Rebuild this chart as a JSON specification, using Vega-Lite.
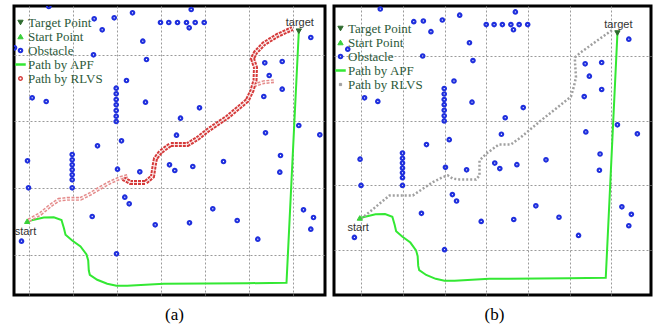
{
  "$schema": "https://vega.github.io/schema/vega-lite/v6.json",
  "background": "white",
  "padding": {"left": 12, "top": 4, "right": 2, "bottom": 2},
  "spacing": 5,
  "config": {
    "view": {"stroke": "black", "strokeWidth": 3},
    "axis": {"grid": true, "gridColor": "#9a9a9a", "gridDash": [2, 2], "gridWidth": 1, "labels": false, "ticks": false, "domain": false}
  },
  "datasets": {
    "pts": [
      {"kind": "Target Point", "x": 286.3, "y": 264.3},
      {"kind": "Start Point", "x": 14.7, "y": 74.3},
      {"kind": "Obstacle", "x": 36.3, "y": 289}, {"kind": "Obstacle", "x": 178.7, "y": 286}, {"kind": "Obstacle", "x": 71.6, "y": 276, "hideA": true}, {"kind": "Obstacle", "x": 81.7, "y": 276.7}, {"kind": "Obstacle", "x": 101.7, "y": 277.7}, {"kind": "Obstacle", "x": 120, "y": 282.7},
      {"kind": "Obstacle", "x": 148, "y": 273}, {"kind": "Obstacle", "x": 156.3, "y": 273}, {"kind": "Obstacle", "x": 165, "y": 273}, {"kind": "Obstacle", "x": 174, "y": 273}, {"kind": "Obstacle", "x": 182.7, "y": 273}, {"kind": "Obstacle", "x": 191.7, "y": 273},
      {"kind": "Obstacle", "x": 176.7, "y": 267.7}, {"kind": "Obstacle", "x": 89.7, "y": 265.7}, {"kind": "Obstacle", "x": 298.3, "y": 258}, {"kind": "Obstacle", "x": 130.3, "y": 254.3}, {"kind": "Obstacle", "x": 2, "y": 247.7},
      {"kind": "Obstacle", "x": 81, "y": 240.7}, {"kind": "Obstacle", "x": 134, "y": 236}, {"kind": "Obstacle", "x": 252.3, "y": 232.7}, {"kind": "Obstacle", "x": 269.7, "y": 234}, {"kind": "Obstacle", "x": 256.7, "y": 220}, {"kind": "Obstacle", "x": 114, "y": 215}, {"kind": "Obstacle", "x": 269.7, "y": 206.3},
      {"kind": "Obstacle", "x": 103.7, "y": 207.3}, {"kind": "Obstacle", "x": 103.7, "y": 201.7}, {"kind": "Obstacle", "x": 103.7, "y": 196}, {"kind": "Obstacle", "x": 103.7, "y": 190.7}, {"kind": "Obstacle", "x": 103.7, "y": 185}, {"kind": "Obstacle", "x": 103.7, "y": 179.3}, {"kind": "Obstacle", "x": 103.7, "y": 174},
      {"kind": "Obstacle", "x": 19.7, "y": 197.7}, {"kind": "Obstacle", "x": 33.7, "y": 194}, {"kind": "Obstacle", "x": 133, "y": 193.3}, {"kind": "Obstacle", "x": 251.3, "y": 199}, {"kind": "Obstacle", "x": 187, "y": 187.7}, {"kind": "Obstacle", "x": 168, "y": 177.3},
      {"kind": "Obstacle", "x": 286.3, "y": 170}, {"kind": "Obstacle", "x": 253, "y": 162.7}, {"kind": "Obstacle", "x": 307.3, "y": 160.7}, {"kind": "Obstacle", "x": 164, "y": 160.3}, {"kind": "Obstacle", "x": 85, "y": 149.7}, {"kind": "Obstacle", "x": 109, "y": 154.7},
      {"kind": "Obstacle", "x": 59.7, "y": 141}, {"kind": "Obstacle", "x": 59.7, "y": 135.7}, {"kind": "Obstacle", "x": 59.7, "y": 130.7}, {"kind": "Obstacle", "x": 59.7, "y": 125.7}, {"kind": "Obstacle", "x": 59.7, "y": 120.7}, {"kind": "Obstacle", "x": 59.7, "y": 115.7}, {"kind": "Obstacle", "x": 59.7, "y": 107.7},
      {"kind": "Obstacle", "x": 15, "y": 134.7}, {"kind": "Obstacle", "x": 16, "y": 107.7}, {"kind": "Obstacle", "x": 105, "y": 126.3}, {"kind": "Obstacle", "x": 127.3, "y": 123.7}, {"kind": "Obstacle", "x": 157, "y": 130.7}, {"kind": "Obstacle", "x": 162.3, "y": 125},
      {"kind": "Obstacle", "x": 180.3, "y": 129}, {"kind": "Obstacle", "x": 211, "y": 134}, {"kind": "Obstacle", "x": 268, "y": 140}, {"kind": "Obstacle", "x": 267.3, "y": 123.3}, {"kind": "Obstacle", "x": 112.3, "y": 98.3}, {"kind": "Obstacle", "x": 116.7, "y": 91.7},
      {"kind": "Obstacle", "x": 79.7, "y": 79}, {"kind": "Obstacle", "x": 142.7, "y": 70.7}, {"kind": "Obstacle", "x": 177, "y": 72.7}, {"kind": "Obstacle", "x": 200.3, "y": 86.7}, {"kind": "Obstacle", "x": 224.7, "y": 75}, {"kind": "Obstacle", "x": 245.3, "y": 56.3},
      {"kind": "Obstacle", "x": 291, "y": 85.7}, {"kind": "Obstacle", "x": 301, "y": 78}, {"kind": "Obstacle", "x": 298.3, "y": 66.3}, {"kind": "Obstacle", "x": 9, "y": 54.3}, {"kind": "Obstacle", "x": 104, "y": 41.7}
    ],
    "apf": [
      {"i": 0, "x": 14.7, "y": 74.3}, {"i": 1, "x": 31.3, "y": 78}, {"i": 2, "x": 41.3, "y": 78.3}, {"i": 3, "x": 49, "y": 75.5},
      {"i": 4, "x": 51.5, "y": 67}, {"i": 5, "x": 53, "y": 60.7}, {"i": 6, "x": 59.7, "y": 55}, {"i": 7, "x": 68, "y": 49},
      {"i": 8, "x": 74, "y": 41}, {"i": 9, "x": 75.7, "y": 35}, {"i": 10, "x": 76.3, "y": 25}, {"i": 11, "x": 77.3, "y": 20.7},
      {"i": 12, "x": 84.7, "y": 15.7}, {"i": 13, "x": 94.7, "y": 11.7}, {"i": 14, "x": 104, "y": 9.7}, {"i": 15, "x": 114.7, "y": 9.7},
      {"i": 16, "x": 151.3, "y": 11.7}, {"i": 17, "x": 234.7, "y": 12.3}, {"i": 18, "x": 274, "y": 12.7}, {"i": 19, "x": 286.3, "y": 264}
    ],
    "rlvsA": [
      {"seg": "light", "i": 0, "x": 16, "y": 75}, {"seg": "light", "i": 1, "x": 28, "y": 81.7}, {"seg": "light", "i": 2, "x": 38, "y": 90},
      {"seg": "light", "i": 3, "x": 46.3, "y": 95.7}, {"seg": "light", "i": 4, "x": 54.7, "y": 96.7}, {"seg": "light", "i": 5, "x": 68, "y": 96.7},
      {"seg": "light", "i": 6, "x": 78, "y": 101.7}, {"seg": "light", "i": 7, "x": 88, "y": 107.7}, {"seg": "light", "i": 8, "x": 98, "y": 113.3},
      {"seg": "light", "i": 9, "x": 108, "y": 117.7}, {"seg": "light", "i": 10, "x": 116.3, "y": 120},
      {"seg": "dark", "i": 11, "x": 110.5, "y": 117}, {"seg": "dark", "i": 12, "x": 118, "y": 113}, {"seg": "dark", "i": 13, "x": 133, "y": 113},
      {"seg": "dark", "i": 14, "x": 140, "y": 119}, {"seg": "dark", "i": 15, "x": 142, "y": 132}, {"seg": "dark", "i": 16, "x": 143, "y": 137},
      {"seg": "dark", "i": 17, "x": 148, "y": 143.5}, {"seg": "dark", "i": 18, "x": 158, "y": 151}, {"seg": "dark", "i": 19, "x": 175, "y": 151},
      {"seg": "dark", "i": 20, "x": 185, "y": 157}, {"seg": "dark", "i": 21, "x": 195, "y": 165}, {"seg": "dark", "i": 22, "x": 215, "y": 178.5},
      {"seg": "dark", "i": 23, "x": 234.7, "y": 195}, {"seg": "dark", "i": 24, "x": 239.5, "y": 205}, {"seg": "dark", "i": 25, "x": 242.5, "y": 215},
      {"seg": "dark", "i": 26, "x": 243, "y": 228}, {"seg": "dark", "i": 27, "x": 240, "y": 237}, {"seg": "dark", "i": 28, "x": 243, "y": 243},
      {"seg": "dark", "i": 29, "x": 251.3, "y": 251.7}, {"seg": "dark", "i": 30, "x": 264.7, "y": 260}, {"seg": "dark", "i": 31, "x": 280, "y": 267},
      {"seg": "branch", "i": 32, "x": 241, "y": 210}, {"seg": "branch", "i": 33, "x": 251.3, "y": 213.3}, {"seg": "branch", "i": 34, "x": 261.3, "y": 214.3}
    ],
    "rlvsB": [
      {"i": 0, "x": 16, "y": 73.5}, {"i": 1, "x": 24.9, "y": 80.3}, {"i": 2, "x": 35.4, "y": 88.9}, {"i": 3, "x": 46, "y": 97.4},
      {"i": 4, "x": 70.6, "y": 97.4}, {"i": 5, "x": 81.1, "y": 104.3}, {"i": 6, "x": 91.7, "y": 111.1}, {"i": 7, "x": 102.2, "y": 116.2},
      {"i": 8, "x": 107.5, "y": 118}, {"i": 9, "x": 112.8, "y": 114.6}, {"i": 10, "x": 119.8, "y": 113.8}, {"i": 11, "x": 137.3, "y": 113.8},
      {"i": 12, "x": 140.9, "y": 118}, {"i": 13, "x": 140.9, "y": 133.3}, {"i": 14, "x": 147.9, "y": 140.2}, {"i": 15, "x": 161.3, "y": 149.8},
      {"i": 16, "x": 174, "y": 149.8}, {"i": 17, "x": 184.5, "y": 157.2}, {"i": 18, "x": 205.6, "y": 174.4}, {"i": 19, "x": 223.2, "y": 188},
      {"i": 20, "x": 237.3, "y": 199}, {"i": 21, "x": 240.4, "y": 209.3}, {"i": 22, "x": 242.6, "y": 218.8}, {"i": 23, "x": 241.5, "y": 236},
      {"i": 24, "x": 241.5, "y": 239.3}, {"i": 25, "x": 247.8, "y": 244.5}, {"i": 26, "x": 262.6, "y": 254.9}, {"i": 27, "x": 280.5, "y": 267.2}
    ],
    "names": [
      {"name": "target", "x": 287.3, "y": 272.7},
      {"name": "start", "x": 13, "y": 64}
    ]
  },
  "hconcat": [
    {
      "width": 311,
      "height": 289,
      "layer": [
        {
          "data": {"name": "apf"},
          "mark": {"type": "line", "color": "#33e833", "strokeWidth": 2, "clip": true},
          "encoding": {
            "x": {"field": "x", "type": "quantitative", "scale": {"domain": [1.5, 312.5], "nice": false, "zero": false},
              "axis": {"values": [16, 60, 104, 148, 192, 236, 280], "title": "(a)", "titleFont": "Liberation Serif", "titleFontSize": 17, "titleFontWeight": "normal", "titleColor": "black", "titleX": 160, "titleY": 24, "titleBaseline": "alphabetic", "titleAlign": "center"}},
            "y": {"field": "y", "type": "quantitative", "scale": {"domain": [0.5, 289.5], "nice": false, "zero": false},
              "axis": {"values": [41, 107.7, 174.3, 241], "title": null}},
            "order": {"field": "i"}
          }
        },
        {
          "data": {"name": "rlvsA"},
          "transform": [{"filter": "datum.seg !== 'dark'"}],
          "mark": {"type": "line", "color": "#e48a8a", "strokeWidth": 4, "strokeDash": [3, 1.5], "clip": true},
          "encoding": {"x": {"field": "x", "type": "quantitative"}, "y": {"field": "y", "type": "quantitative"}, "detail": {"field": "seg"}, "order": {"field": "i"}}
        },
        {
          "data": {"name": "rlvsA"},
          "transform": [{"filter": "datum.seg === 'dark'"}],
          "mark": {"type": "line", "color": "#d53a3a", "strokeWidth": 5, "strokeDash": [3, 1], "clip": true},
          "encoding": {"x": {"field": "x", "type": "quantitative"}, "y": {"field": "y", "type": "quantitative"}, "order": {"field": "i"}}
        },
        {
          "data": {"name": "rlvsA"},
          "mark": {"type": "line", "color": "white", "strokeWidth": 1.2, "opacity": 0.8, "clip": true},
          "encoding": {"x": {"field": "x", "type": "quantitative"}, "y": {"field": "y", "type": "quantitative"}, "detail": {"field": "seg"}, "order": {"field": "i"}}
        },
        {
          "data": {"name": "pts"},
          "transform": [{"filter": "!datum.hideA"}],
          "mark": {"type": "point", "opacity": 1, "clip": true},
          "encoding": {
            "x": {"field": "x", "type": "quantitative"},
            "y": {"field": "y", "type": "quantitative"},
            "shape": {"field": "kind", "type": "nominal",
              "scale": {"domain": ["Target Point", "Start Point", "Obstacle", "Path by APF", "Path by RLVS"], "range": ["triangle-down", "triangle-up", "circle", "stroke", "circle"]},
              "legend": {"title": null, "orient": "none", "legendX": 0, "legendY": 10, "labelFont": "Liberation Serif", "labelFontSize": 13, "labelColor": "#2d5a3a", "rowPadding": -3, "labelOffset": 1, "padding": 0, "labelLimit": 200}},
            "fill": {"field": "kind", "type": "nominal",
              "scale": {"domain": ["Target Point", "Start Point", "Obstacle", "Path by APF", "Path by RLVS"], "range": ["#2e6b2e", "#3ad03a", "transparent", "transparent", "transparent"]},
              "legend": {"title": null, "orient": "none", "legendX": 0, "legendY": 10, "labelFont": "Liberation Serif", "labelFontSize": 13, "labelColor": "#2d5a3a", "rowPadding": -3, "labelOffset": 1, "padding": 0, "labelLimit": 200}},
            "stroke": {"field": "kind", "type": "nominal",
              "scale": {"domain": ["Target Point", "Start Point", "Obstacle", "Path by APF", "Path by RLVS"], "range": ["#2e6b2e", "#3ad03a", "#1f2fdd", "#33e833", "#d43c3c"]},
              "legend": {"title": null, "orient": "none", "legendX": 0, "legendY": 10, "labelFont": "Liberation Serif", "labelFontSize": 13, "labelColor": "#2d5a3a", "rowPadding": -3, "labelOffset": 1, "padding": 0, "labelLimit": 200}},
            "size": {"field": "kind", "type": "nominal",
              "scale": {"type": "ordinal", "domain": ["Target Point", "Start Point", "Obstacle", "Path by APF", "Path by RLVS"], "range": [28, 28, 12, 110, 12]},
              "legend": {"title": null, "orient": "none", "legendX": 0, "legendY": 10, "labelFont": "Liberation Serif", "labelFontSize": 13, "labelColor": "#2d5a3a", "rowPadding": -3, "labelOffset": 1, "padding": 0, "labelLimit": 200}},
            "strokeWidth": {"field": "kind", "type": "nominal",
              "scale": {"type": "ordinal", "domain": ["Target Point", "Start Point", "Obstacle", "Path by APF", "Path by RLVS"], "range": [1, 1, 2.2, 2.5, 1.5]},
              "legend": {"title": null, "orient": "none", "legendX": 0, "legendY": 10, "labelFont": "Liberation Serif", "labelFontSize": 13, "labelColor": "#2d5a3a", "rowPadding": -3, "labelOffset": 1, "padding": 0, "labelLimit": 200}}
          }
        },
        {
          "data": {"name": "names"},
          "mark": {"type": "text", "font": "Liberation Sans", "fontSize": 11, "color": "#333333", "baseline": "middle", "align": "center"},
          "encoding": {"x": {"field": "x", "type": "quantitative"}, "y": {"field": "y", "type": "quantitative"}, "text": {"field": "name"}}
        }
      ]
    },
    {
      "width": 317,
      "height": 289,
      "layer": [
        {
          "data": {"name": "apf"},
          "mark": {"type": "line", "color": "#33e833", "strokeWidth": 2, "clip": true},
          "encoding": {
            "x": {"field": "x", "type": "quantitative", "scale": {"domain": [-12.5, 321.7], "nice": false, "zero": false},
              "axis": {"values": [16, 60, 104, 148, 192, 236, 280], "title": "(b)", "titleFont": "Liberation Serif", "titleFontSize": 17, "titleFontWeight": "normal", "titleColor": "black", "titleX": 160, "titleY": 24, "titleBaseline": "alphabetic", "titleAlign": "center"}},
            "y": {"field": "y", "type": "quantitative", "scale": {"domain": [-4.9, 292.1], "nice": false, "zero": false},
              "axis": {"values": [41, 107.7, 174.3, 241], "title": null}},
            "order": {"field": "i"}
          }
        },
        {
          "data": {"name": "rlvsB"},
          "mark": {"type": "line", "color": "#a0a0a0", "strokeWidth": 2.5, "strokeDash": [2, 2], "clip": true},
          "encoding": {"x": {"field": "x", "type": "quantitative"}, "y": {"field": "y", "type": "quantitative"}, "order": {"field": "i"}}
        },
        {
          "data": {"name": "pts"},
          "mark": {"type": "point", "opacity": 1, "clip": true},
          "encoding": {
            "x": {"field": "x", "type": "quantitative"},
            "y": {"field": "y", "type": "quantitative"},
            "shape": {"field": "kind", "type": "nominal",
              "scale": {"domain": ["Target Point", "Start Point", "Obstacle", "Path by APF", "Path by RLVS"], "range": ["triangle-down", "triangle-up", "circle", "stroke", "square"]},
              "legend": {"title": null, "orient": "none", "legendX": 0, "legendY": 16, "labelFont": "Liberation Serif", "labelFontSize": 13, "labelColor": "#2d5a3a", "rowPadding": -3, "labelOffset": 1, "padding": 0, "labelLimit": 200}},
            "fill": {"field": "kind", "type": "nominal",
              "scale": {"domain": ["Target Point", "Start Point", "Obstacle", "Path by APF", "Path by RLVS"], "range": ["#2e6b2e", "#3ad03a", "transparent", "transparent", "#a0a0a0"]},
              "legend": {"title": null, "orient": "none", "legendX": 0, "legendY": 16, "labelFont": "Liberation Serif", "labelFontSize": 13, "labelColor": "#2d5a3a", "rowPadding": -3, "labelOffset": 1, "padding": 0, "labelLimit": 200}},
            "stroke": {"field": "kind", "type": "nominal",
              "scale": {"domain": ["Target Point", "Start Point", "Obstacle", "Path by APF", "Path by RLVS"], "range": ["#2e6b2e", "#3ad03a", "#1f2fdd", "#33e833", "#a0a0a0"]},
              "legend": {"title": null, "orient": "none", "legendX": 0, "legendY": 16, "labelFont": "Liberation Serif", "labelFontSize": 13, "labelColor": "#2d5a3a", "rowPadding": -3, "labelOffset": 1, "padding": 0, "labelLimit": 200}},
            "size": {"field": "kind", "type": "nominal",
              "scale": {"type": "ordinal", "domain": ["Target Point", "Start Point", "Obstacle", "Path by APF", "Path by RLVS"], "range": [28, 28, 12, 110, 5]},
              "legend": {"title": null, "orient": "none", "legendX": 0, "legendY": 16, "labelFont": "Liberation Serif", "labelFontSize": 13, "labelColor": "#2d5a3a", "rowPadding": -3, "labelOffset": 1, "padding": 0, "labelLimit": 200}},
            "strokeWidth": {"field": "kind", "type": "nominal",
              "scale": {"type": "ordinal", "domain": ["Target Point", "Start Point", "Obstacle", "Path by APF", "Path by RLVS"], "range": [1, 1, 2.2, 2.5, 1]},
              "legend": {"title": null, "orient": "none", "legendX": 0, "legendY": 16, "labelFont": "Liberation Serif", "labelFontSize": 13, "labelColor": "#2d5a3a", "rowPadding": -3, "labelOffset": 1, "padding": 0, "labelLimit": 200}}
          }
        },
        {
          "data": {"name": "names"},
          "mark": {"type": "text", "font": "Liberation Sans", "fontSize": 11, "color": "#333333", "baseline": "middle", "align": "center"},
          "encoding": {"x": {"field": "x", "type": "quantitative"}, "y": {"field": "y", "type": "quantitative"}, "text": {"field": "name"}}
        }
      ]
    }
  ],
  "resolve": {
    "scale": {"x": "independent", "y": "independent", "shape": "independent", "fill": "independent", "stroke": "independent", "size": "independent", "strokeWidth": "independent"},
    "legend": {"shape": "independent", "fill": "independent", "stroke": "independent", "size": "independent", "strokeWidth": "independent"}
  }
}
